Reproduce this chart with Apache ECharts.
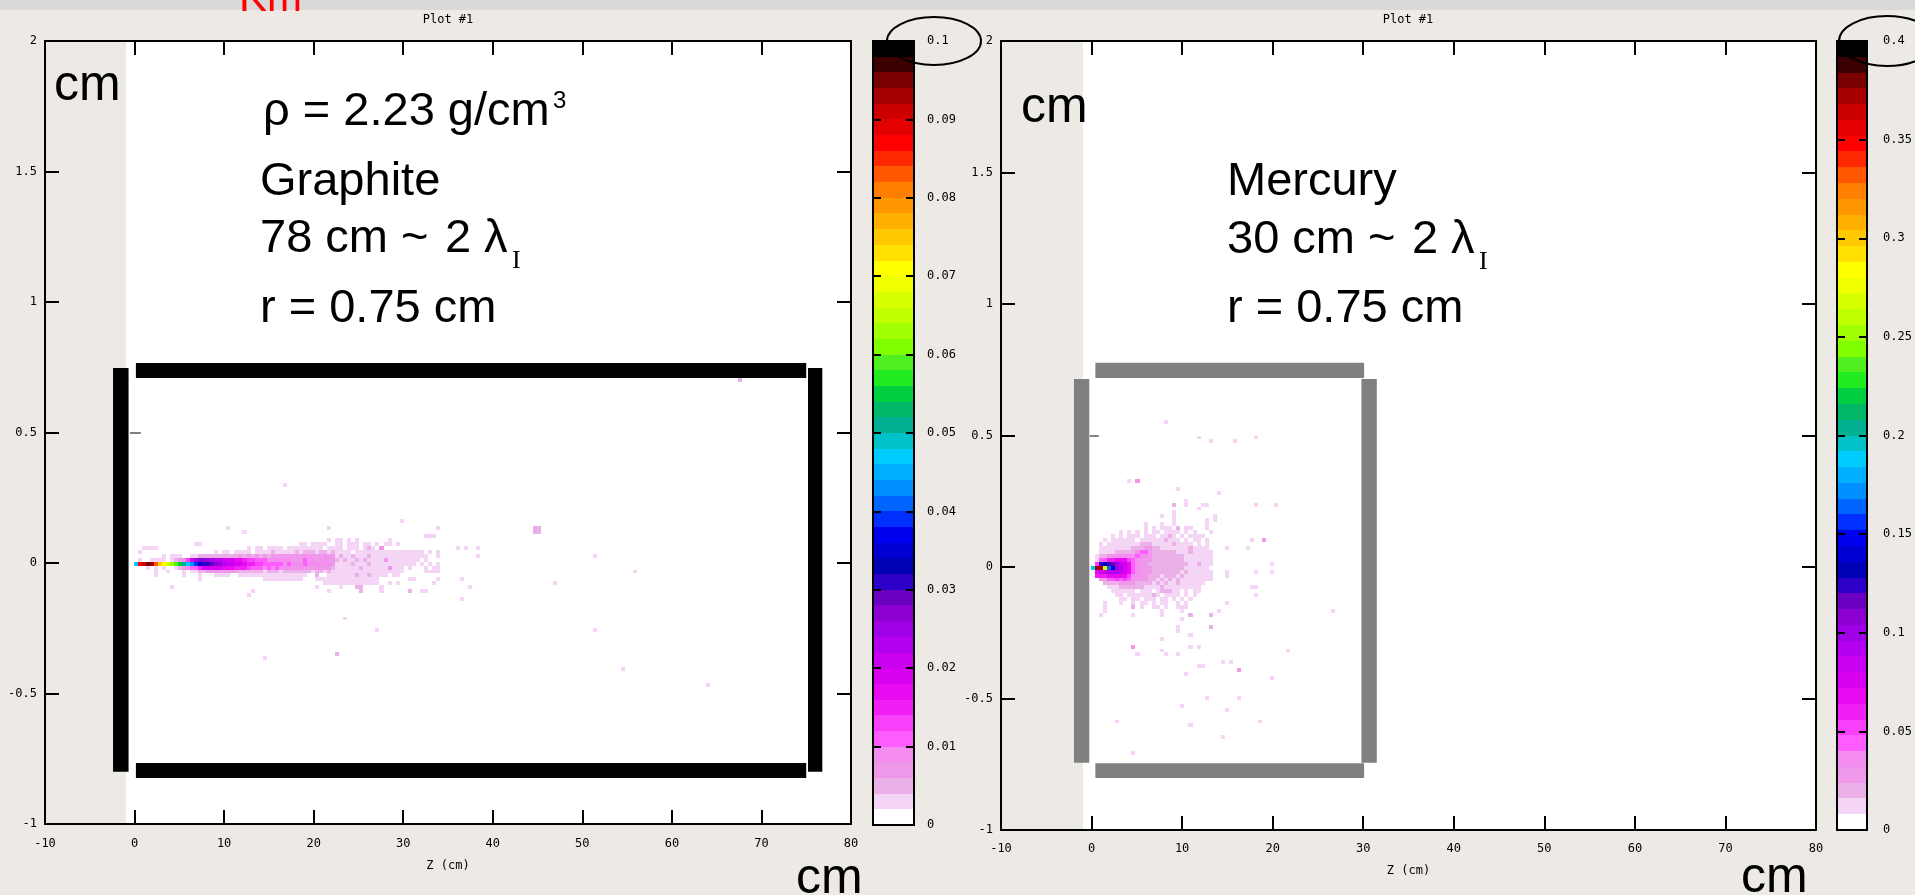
<!DOCTYPE html>
<html><head><meta charset="utf-8">
<script src="https://cdn.jsdelivr.net/npm/echarts@6/dist/echarts.min.js"></script>
<style>html,body{margin:0;padding:0;background:#edeae6;}#c{width:1915px;height:895px;}</style>
</head><body><div id="c"></div>
<script>
// ================= DATA =================
const zTicks = { min: -10, max: 80, step: 10 };
const rTicks = { min: -1, max: 2, step: 0.5 };
const zBin = 0.45, rBin = 0.015;          // histogram bin size (cm)
const firstCol = 22, axisRow = 66;        // bin index of z≈0 column and r≈0 row
const graphiteMax = 0.1, graphiteStep = 0.01;
const mercuryMax = 0.4, mercuryStep = 0.05;
const nLevels = 50;
const levelCodes = '0123456789abcdefghijklmnopqrstuvwxyzABCDEFGHIJKLMN';
const palette = ['#ffffff','#f5d5f5','#ecb0e8','#ef98e9','#f58cf0','#ff5cff','#f840fb','#f020f5','#e80af0','#d800f0',
  '#c800f0','#b400f0','#a000e6','#8c00d2','#6c00c0','#2c00c8','#0000b4','#0000d2','#0000f0','#0030ff',
  '#0064ff','#0090ff','#00b0ff','#00ccff','#00c0c8','#00b090','#00b868','#00d040','#20ec20','#50f020',
  '#80ff00','#a0ff00','#c0ff00','#d8ff00','#f0ff00','#ffff00','#ffe000','#ffc800','#ffb000','#ff9800',
  '#ff8000','#ff5800','#ff2800','#ff0000','#e40000','#cc0000','#a80000','#780000','#3c0000','#000000'];

// rows: [row offset from axis, level codes per z-bin starting at z≈0]
const graphiteRows = [
 [7,  ".......... .......... .......... .......... .......... .......... .......... ..111....."],
 [6,  ".......... .......... .......... .......... ........1. 11.1.1.... ...1...... .........."],
 [5,  ".......... ......1... .......... .......... .11.1111.. 11.111.11. 1.11.1.... .........."],
 [4,  "...1.1.... .......... ........1. 11.1111.11 1111111.11 11.111.121 .3........ .........."],
 [3,  ".1........ .......... 1.11.1111. 1111211111 2122212212 1111.11111 1111111111 11.1.1...."],
 [2,  ".......1.1 11..112222 2222223232 3232333333 3343333433 1211211121 1111111111 11........"],
 [1,  ".1..1111.1 23469cddcc bba9988766 5554444443 3353433433 2121121211 1131111111 1.1......."],
 [0,  "nHJLKFBzxv trpnljhffe dcbaa99877 6655555454 4454444343 1111211121 1111111111 .1.1......"],
 [-1, "...1.1.1.. 1234557999 9988877765 5545454443 3433343332 1111112111 1113111.1. ..1.11...."],
 [-2, ".....1..1. ..1.112233 3333332222 2212221222 2222122121 1111111111 1111111... ..1111...."],
 [-3, ".....1.... ..1...1... 1111..1111 1111111111 111..2..11 1111121121 111.11.... .........."],
 [-4, ".......... ......1... .......... ..11111111 11...11111 1111111111 1.......11 .....1...."],
 [-5, ".......... .......... .......... .......... .......111 1111111111 1..1.1.... .........."],
 [-6, ".........1 .......... .......... .......... .....1.... .1...22... .1........ .........."],
 [-7, ".......... .......... .......... .......... ........1. ......2... .1......2. .11......."]
];
// isolated hits: [z (cm), r (cm), level]
const graphiteSparse = [[16.6,0.295,1],[29.9,0.162,1],[10.4,0.13,1],[12.1,0.116,1],[21.5,0.13,1],[33.7,0.13,1],
 [44.6,0.13,2],[45.05,0.13,2],[44.6,0.115,2],[45.05,0.115,2],[36.0,0.057,1],[36.9,0.057,1],[38.4,0.057,1],
 [38.4,0.024,1],[51.6,0.027,1],[55.7,-0.033,1],[36.8,-0.06,1],[36.8,-0.138,1],[37.6,-0.092,1],[33.6,-0.077,1],
 [47.1,-0.077,1],[4.0,-0.092,1],[12.8,-0.125,1],[23.6,-0.215,1],[27.2,-0.26,1],[51.6,-0.26,1],[22.7,-0.345,2],
 [14.7,-0.365,1],[54.4,-0.41,1],[64.0,-0.467,1],[0.8,0.057,1],[2.0,0.057,1],[6.8,0.073,1],[67.5,0.70,2],
 [33.7,0.03,1],[32.4,0.03,1],[33.7,0.0,1],[13.2,-0.115,1]];

const mercuryRows = [
 [14, ".......... .......... 1........."],
 [13, ".......... .......1.. 1........."],
 [12, ".......... .......... 1.......1. 1"],
 [11, ".......... ...1...1.. 1.......1."],
 [10, ".......... ...1.1.111 .2.11...1."],
 [9,  ".......1.2 .1.1.11.11 11.1.1...1"],
 [8,  ".....1.1.1 11.111.112 1.1.1111.."],
 [7,  "...1.11111 1.11111121 11.1.11.1."],
 [6,  "..1.111111 1122211111 21111.1.1."],
 [5,  "..11111111 2223322111 111121111."],
 [4,  "..11112222 2455322222 2111211111"],
 [3,  ".122334444 4544322222 2221111111"],
 [2,  ".155778886 5333322222 2221111111"],
 [1,  ".6fgfeca98 5433222222 2222112111"],
 [0,  "nKKxkhcb98 5433322222 222111111."],
 [-1, ".89abbba98 5433322222 2212111111"],
 [-2, ".777888886 4433222122 2121111111"],
 [-3, "..33556565 3333221212 1211111111"],
 [-4, "...2222333 3222212121 12111111.."],
 [-5, "....111222 2221111211 1111111..."],
 [-6, ".....11111 1.111.1222 11.1.11..."],
 [-7, "......11.1 1111121.11 11.1.1...."],
 [-8, ".......11. 11.111.11. 1.1.1....."],
 [-9, "...1...1.. 1.11.1.11. .1.1......"],
 [-10,"...1...... 2.1..11.1. .111......"],
 [-11,"...1...... .......1.. ..1......."],
 [-12,".......... .......1.. ....2....."],
 [-13,".......... .......... ..1......."]
];
const mercurySparse = [[4.0,0.333,1],[5.15,0.327,3],[9.68,0.295,1],[13.94,0.283,1],[9.2,0.243,2],[10.4,0.243,1],
 [12.25,0.236,1],[18.0,0.238,1],[20.4,0.238,1],[11.8,0.223,1],[9.05,0.205,1],[12.9,0.179,1],[13.6,0.186,1],
 [5.83,0.16,1],[3.1,0.134,1],[4.14,0.134,1],[17.5,0.103,1],[19.2,0.105,3],[15.1,0.071,1],[17.2,0.071,1],
 [18.0,-0.023,1],[20.0,-0.011,1],[15.15,-0.03,1],[17.5,-0.079,1],[18.1,-0.079,1],[15.1,-0.138,1],
 [26.45,-0.167,1],[1.1,-0.176,1],[4.8,-0.189,1],[13.1,-0.183,2],[9.68,-0.24,1],[13.25,-0.227,2],
 [4.48,-0.303,3],[7.84,-0.271,1],[9.68,-0.331,1],[10.9,-0.303,1],[21.6,-0.319,1],[14.4,-0.364,1],
 [15.6,-0.364,2],[12.1,-0.379,1],[16.2,-0.392,3],[20.0,-0.423,1],[10.4,-0.407,1],[12.8,-0.499,1],
 [16.3,-0.499,1],[10.0,-0.525,1],[14.8,-0.541,1],[2.65,-0.588,1],[10.8,-0.605,1],[18.5,-0.588,1],
 [14.4,-0.648,1],[4.8,-0.706,1],[8.4,0.552,1],[11.6,0.495,1],[13.2,0.471,1],[16.0,0.471,1],[18.0,0.495,1],
 [9.1,0.2375,2],[10.5,0.2525,1],[12.7,0.2375,1],[14.1,0.2825,1],[9.6,0.2975,1],[4.2,0.3275,1],[17.7,0.10,1],
 [19.9,0.0125,1],[19.9,-0.0175,1],[18.1,-0.0175,1],[15.0,-0.0175,1],[17.7,-0.0775,1],[18.1,-0.1075,1],
 [15.0,-0.1375,1],[14.1,-0.1675,1],[13.2,-0.2275,2],[9.6,-0.2275,1],[10.9,-0.2575,1],[7.8,-0.2725,1],
 [5.1,-0.3325,1],[7.8,-0.3175,1],[8.2,-0.3325,1],[9.6,-0.3325,1],[11.8,-0.3025,1],[11.8,-0.3775,1],
 [15.4,-0.3625,1],[10.5,-0.4075,1],[19.9,-0.4225,1],[21.7,-0.3175,1]];

// target walls (cm): [z0, z1, r0, r1]
const graphiteWalls = [[0.15,75,0.709,0.766],[-2.4,-0.67,-0.80,0.747],[75.2,76.8,-0.80,0.747],[0.15,75,-0.824,-0.766]];
const mercuryWalls  = [[0.42,30.1,0.719,0.777],[-1.94,-0.25,-0.744,0.715],[29.8,31.5,-0.744,0.715],[0.42,30.1,-0.802,-0.746]];
const graphiteCover = [[-10,-0.96,-1,2]];
const mercuryCover  = [[-10,-0.94,-1,2]];
// stray inner tick marks left visible next to the cover: [z0, z1, r]
const graphiteStrayTicks = [[-0.5,0.7,0.5]];
const mercuryStrayTicks  = [[-0.2,0.8,0.5]];

// ================= BUILD =================
function cellsFromRows(rows, vmax) {
  const out = [];
  rows.forEach(([m, s]) => {
    const str = s.replace(/ /g, '');
    for (let j = 0; j < str.length; j++) {
      const c = str[j]; if (c === '.') continue;
      const lvl = levelCodes.indexOf(c);
      out.push([zTicks.min + (firstCol + j) * zBin, rTicks.min + (axisRow + m) * rBin, (lvl + 0.5) * vmax / nLevels]);
    }
  });
  return out;
}
function cellsFromSparse(list, vmax) {
  return list.map(([z, r, lvl]) => {
    const i = Math.floor((z - zTicks.min) / zBin), k = Math.floor((r - rTicks.min) / rBin);
    return [zTicks.min + i * zBin, rTicks.min + k * rBin, (lvl + 0.5) * vmax / nLevels];
  });
}
function colorFor(v, vmax) { return palette[Math.max(0, Math.min(nLevels - 1, Math.floor(v / vmax * nLevels)))]; }

const MONO = "'DejaVu Sans Mono', monospace";
const SANS = "'Liberation Sans', Arial, sans-serif";
const SERIF = "'Liberation Serif', 'Times New Roman', serif";
const BG = '#edeae6';

function heatSeries(xi, cells, vmax) {
  return { type: 'custom', xAxisIndex: xi, yAxisIndex: xi, z: 3, silent: true, data: cells,
    renderItem: (p, api) => {
      const z = api.value(0), r = api.value(1), v = api.value(2);
      const a = api.coord([z, r + rBin]), b = api.coord([z + zBin, r]);
      const x = Math.round(a[0]), y = Math.round(a[1]);
      return { type: 'rect', shape: { x, y, width: Math.round(b[0]) - x, height: Math.round(b[1]) - y }, style: { fill: colorFor(v, vmax) } };
    } };
}
function rectSeries(xi, rects, fill, zz) {
  return { type: 'custom', xAxisIndex: xi, yAxisIndex: xi, z: zz, silent: true, data: rects,
    renderItem: (p, api) => {
      const a = api.coord([api.value(0), api.value(3)]), b = api.coord([api.value(1), api.value(2)]);
      return { type: 'rect', shape: { x: a[0], y: a[1], width: b[0] - a[0], height: b[1] - a[1] }, style: { fill } };
    } };
}
function tickSeries(xi, ticks) {
  return { type: 'custom', xAxisIndex: xi, yAxisIndex: xi, z: 2, silent: true, data: ticks,
    renderItem: (p, api) => {
      const a = api.coord([api.value(0), api.value(2)]), b = api.coord([api.value(1), api.value(2)]);
      return { type: 'line', shape: { x1: a[0], y1: Math.round(a[1]), x2: b[0], y2: Math.round(b[1]) }, style: { stroke: '#000', lineWidth: 1 } };
    } };
}
function barSeries(xi, vmax) {
  const data = palette.map((c, idx) => [idx * vmax / nLevels, (idx + 1) * vmax / nLevels, idx]);
  return { type: 'custom', xAxisIndex: xi, yAxisIndex: xi, z: 3, silent: true, data,
    renderItem: (p, api) => {
      const a = api.coord([0, api.value(1)]), b = api.coord([1, api.value(0)]);
      return { type: 'rect', shape: { x: a[0], y: Math.round(a[1]), width: b[0] - a[0], height: Math.round(b[1]) - Math.round(a[1]) }, style: { fill: palette[api.value(2)] } };
    } };
}

const line = { show: true, onZero: false, lineStyle: { color: '#000', width: 2 } };
const lbl = { color: '#000', fontFamily: MONO, fontSize: 12 };
function mainX(gi, pos, show, margin, gap) {
  return { gridIndex: gi, type: 'value', position: pos, min: zTicks.min, max: zTicks.max, interval: zTicks.step, z: 10,
    axisLine: line, splitLine: { show: false },
    axisTick: { show: true, inside: true, length: 14, lineStyle: { color: '#000', width: 2 } },
    axisLabel: Object.assign({ show, margin }, lbl),
    name: show ? 'Z (cm)' : '', nameLocation: 'middle', nameGap: gap, nameTextStyle: lbl };
}
function mainY(gi, pos, show) {
  return { gridIndex: gi, type: 'value', position: pos, min: rTicks.min, max: rTicks.max, interval: rTicks.step, z: 10,
    axisLine: line, splitLine: { show: false },
    axisTick: { show: true, inside: true, length: 14, lineStyle: { color: '#000', width: 2 } },
    axisLabel: Object.assign({ show, margin: 8 }, lbl) };
}
function barX(gi, pos) {
  return { gridIndex: gi, type: 'value', position: pos, min: 0, max: 1, z: 10, axisLine: line,
    splitLine: { show: false }, axisTick: { show: false }, axisLabel: { show: false } };
}
function barY(gi, pos, vmax, step, show, margin) {
  return { gridIndex: gi, type: 'value', position: pos, min: 0, max: vmax, interval: step, z: 10,
    axisLine: line, splitLine: { show: false },
    axisTick: { show: true, inside: true, length: 8, lineStyle: { color: '#000', width: 2 } },
    axisLabel: Object.assign({ show, margin: margin || 13, formatter: v => String(+v.toFixed(3)) }, lbl) };
}

function txt(x, baseline, text, size, family, fill) {
  return { type: 'text', x, y: baseline - 0.35 * size, z: 100,
    style: { text, font: size + 'px ' + family, fill: fill || '#000', verticalAlign: 'middle', align: 'left' } };
}

const option = {
  animation: false,
  backgroundColor: BG,
  grid: [
    { left: 45, top: 41, width: 806, height: 783, show: true, backgroundColor: '#fff', borderWidth: 0 },
    { left: 1001, top: 41, width: 815, height: 789, show: true, backgroundColor: '#fff', borderWidth: 0 },
    { left: 873, top: 41, width: 41, height: 784 },
    { left: 1837, top: 41, width: 40, height: 789 }
  ],
  xAxis: [mainX(0, 'bottom', true, 14, 36), mainX(1, 'bottom', true, 13, 35), barX(2, 'bottom'), barX(3, 'bottom'),
          mainX(0, 'top', false, 0, 0), mainX(1, 'top', false, 0, 0), barX(2, 'top'), barX(3, 'top')],
  yAxis: [mainY(0, 'left', true), mainY(1, 'left', true),
          barY(2, 'left', graphiteMax, graphiteStep, false), barY(3, 'left', mercuryMax, mercuryStep, false),
          mainY(0, 'right', false), mainY(1, 'right', false),
          barY(2, 'right', graphiteMax, graphiteStep, true, 13), barY(3, 'right', mercuryMax, mercuryStep, true, 16)],
  series: [
    rectSeries(0, graphiteCover, BG, 1),
    tickSeries(0, graphiteStrayTicks),
    heatSeries(0, cellsFromRows(graphiteRows, graphiteMax).concat(cellsFromSparse(graphiteSparse, graphiteMax)), graphiteMax),
    rectSeries(0, graphiteWalls, '#000000', 4),
    rectSeries(1, mercuryCover, BG, 1),
    tickSeries(1, mercuryStrayTicks),
    heatSeries(1, cellsFromRows(mercuryRows, mercuryMax).concat(cellsFromSparse(mercurySparse, mercuryMax)), mercuryMax),
    rectSeries(1, mercuryWalls, '#808080', 4),
    barSeries(2, graphiteMax),
    barSeries(3, mercuryMax)
  ],
  graphic: [
    { type: 'rect', shape: { x: 0, y: 0, width: 1915, height: 10 }, style: { fill: '#d9d9d9' }, z: 50 },
    txt(239, 14, 'Km', 42, SANS, '#ff0000'),
    { type: 'text', x: 448, y: 20, z: 100, style: { text: 'Plot #1', font: '12px ' + MONO, fill: '#000', align: 'center', verticalAlign: 'middle' } },
    { type: 'text', x: 1408, y: 20, z: 100, style: { text: 'Plot #1', font: '12px ' + MONO, fill: '#000', align: 'center', verticalAlign: 'middle' } },
    txt(54, 104, 'cm', 50, SANS),
    txt(796, 897, 'cm', 50, SANS),
    txt(1021, 126, 'cm', 50, SANS),
    txt(1741, 896, 'cm', 50, SANS),
    txt(263, 128, 'ρ = 2.23 g/cm', 47, SANS),
    txt(553, 110, '3', 24, SANS),
    txt(260, 198, 'Graphite', 47, SANS),
    txt(260, 255, '78 cm ~', 47, SANS),
    txt(445, 255, '2', 47, SANS),
    txt(484, 255, 'λ', 47, SANS),
    txt(512, 270, 'I', 26, SERIF),
    txt(260, 325, 'r = 0.75 cm', 47, SANS),
    txt(1227, 198, 'Mercury', 47, SANS),
    txt(1227, 256, '30 cm ~', 47, SANS),
    txt(1412, 256, '2', 47, SANS),
    txt(1451, 256, 'λ', 47, SANS),
    txt(1479, 271, 'I', 26, SERIF),
    txt(1227, 325, 'r = 0.75 cm', 47, SANS),
    { type: 'ellipse', z: 100, shape: { cx: 934, cy: 41, rx: 47, ry: 24 }, style: { fill: 'none', stroke: '#000', lineWidth: 2 } },
    { type: 'ellipse', z: 100, shape: { cx: 1887, cy: 41, rx: 48, ry: 25 }, style: { fill: 'none', stroke: '#000', lineWidth: 2 } }
  ]
};
const chart = echarts.init(document.getElementById('c'), null, { renderer: 'canvas' });
chart.setOption(option);
</script></body></html>
